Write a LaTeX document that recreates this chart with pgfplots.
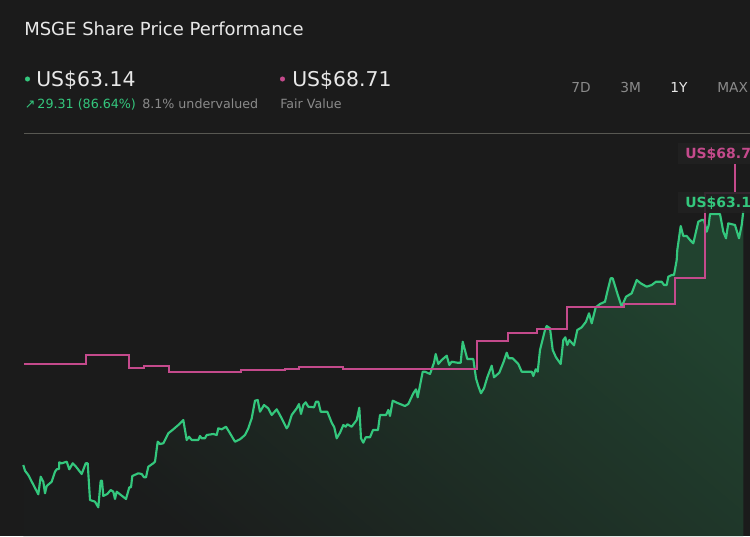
\documentclass[border=0pt]{standalone}
\usepackage{fontspec}
\setmainfont{DejaVu Sans}
\usepackage{pgfplots}
\pgfplotsset{compat=1.18}
\usepackage{pgfplotstable}
\definecolor{bg}{RGB}{27,27,27}
\definecolor{txt}{RGB}{232,232,232}
\definecolor{gry}{RGB}{138,138,138}
\definecolor{grn}{RGB}{52,199,125}
\definecolor{pnk}{RGB}{196,74,140}
\definecolor{rule}{RGB}{88,88,82}
\definecolor{filltop}{RGB}{33,66,47}
\definecolor{fillmid}{RGB}{29,40,33}
\definecolor{fillbot}{RGB}{27,28,28}
\definecolor{boxbg}{RGB}{33,33,33}

% share price (x: time position, y: chart position, reversed)
\pgfplotstableread{
x y
23.3 465
25 470.7
28.3 475
38.3 494.3
40.7 476.7
43.3 481.7
45 493.3
46.7 486
51.7 481.7
55 471.7
56.7 469.3
59 469
59.3 462.3
61.7 463.3
66.7 461.7
69.3 469.3
72.7 463.3
76 466.7
81.7 474
85.7 463.3
87.7 463.3
90 500
95 501.7
98.3 507.3
100.7 480.7
102 480.7
103.3 496
107.3 494
110.7 490
113.3 491.7
115 499
116.7 491.7
126 499
129.3 487.3
131 487.3
132.3 476
138.3 473.3
141.7 474
144 477.3
146 477.3
148.3 466.7
153.3 463.3
155 461.7
157.7 441.7
160 444
163.3 443.3
168.3 433.3
173.3 429.3
178.3 425
183.3 420
186.7 440
189 436.7
191.7 440
198.3 440
200 436
201.7 438.3
205 438.3
206.7 435
213.3 434
216.7 435
218.3 428.3
221.7 429.3
226 426.7
230 433.3
235 441.7
240 439.3
245 435
248.3 428.3
251.7 418.3
255 400.7
257.7 400
260 411.7
264 405
268.3 408.3
271.7 415
276.7 409.3
281.7 418.3
286.7 428.3
288.3 426
291.7 415
296.7 408.3
299 404
301 414
303.3 405
305.7 402.3
308.3 406.7
314 407.3
316 401.7
318.3 401.7
320.7 411.7
327.3 411.7
331.7 422.7
334.3 427.3
336.7 438.3
340 432.7
343.3 425
345.7 426.7
347.3 424.3
351.7 426.7
356.7 420
359.3 407.7
361 438.3
363.3 442.7
365.7 437.3
370 437.3
373 430
378 430
380 415
386 415
388.3 410
390 416
392.7 400.7
398.3 403.3
405 406
408.3 404
413.3 393.3
416 389.3
417.7 397.3
422.7 371.7
425 371.7
430 374
434 362.7
435.7 354
438.3 364
441.7 360
446.7 355.7
449.3 365
451.7 361.7
457.3 362.7
460.7 362.7
462.7 341.7
467.3 359
473.3 359
476 378.3
478.3 386
481 393.3
484 388.3
487.3 377.3
491.7 365.7
494 377.3
499.3 372.7
503.3 362.7
506.7 352.7
508.7 358.3
512.7 358.3
518.3 364
521.7 371.7
528.3 371.7
531.7 371.7
533.3 376
535.7 369.3
537.7 371.7
540 350
545 330
546.7 326
550 328.3
552.7 350
556 357.3
560.7 364
563.3 340
565.3 337.3
567.3 345
569.3 340
574 345.3
577.3 330
581.7 327.3
586 321.7
589 313.3
591.7 323.3
595.7 307.3
600 304
605 301.7
607.3 291.7
610.7 278.3
612.7 278.3
617.3 293.3
621.7 306.7
626 296.7
631.7 293.3
636.7 280
640.7 283.3
646.7 286.7
651.7 285
656 281.7
661.7 281.7
664 285
666.7 285
668.3 276.7
671.7 275
674 275
676.7 260
677.3 250
680.7 226
683.3 236
686.7 236
690 240
693.3 243.3
698.3 221.7
701.7 220
704 220
706.7 231.7
708.7 225
710 214
715 214
720 214
723.3 231.7
726 238.3
728.3 223.3
735 225
739 238.3
741.7 225
743.3 211
}\pricedata

% fair value steps
\pgfplotstableread{
x y
24 364.3
56.7 363.7
85.7 354.7
129.3 368.3
144 365.7
168.7 371.7
241 370.3
256 369.7
285 368.7
299.3 367.3
342.7 369
476.7 341
508.3 333.3
537.3 329.3
566.7 307
624 304
675.3 278
705 193
752 193
}\fairdata

\begin{document}
\begin{tikzpicture}
\path[use as bounding box] (0,0) rectangle (562.5pt,402pt);
\clip (0,0) rectangle (562.5pt,402pt);
\fill[bg] (0,0) rectangle (562.5pt,402pt);
\begin{axis}[
  scale only axis, width=562.5pt, height=402pt,
  xmin=0, xmax=750, ymin=0, ymax=536, y dir=reverse,
  hide axis, clip=false,
]
% area under price
\addplot[draw=none, top color=filltop, middle color=fillmid, bottom color=fillbot, shading angle=-40] table {\pricedata}
  -- (axis cs:743.3,536) -- (axis cs:23.3,536) -- cycle;
% price line
\addplot[grn, line width=1.6pt, line join=round] table {\pricedata};
% fair value
\addplot[pnk, line width=1.4pt, const plot] table {\fairdata};

% separator rule
\draw[rule, line width=0.75pt] (axis cs:24,133) -- (axis cs:752,133);

% header texts
\node[anchor=base west, inner sep=0, text=txt, font=\fontsize{13.5pt}{16pt}\selectfont] at (axis cs:24,35) {MSGE Share Price Performance};
\fill[grn] (axis cs:27.5,79) circle (1.9pt);
\node[anchor=base west, inner sep=0, text=txt, font=\fontsize{15.3pt}{18pt}\selectfont] at (axis cs:36,86.7) {US\$63.14};
\node[anchor=base west, inner sep=0, text=grn, font=\fontsize{9.5pt}{11pt}\selectfont] at (axis cs:24.5,108.3) {↗\,29.31 (86.64\%)};
\node[anchor=base west, inner sep=0, text=gry, font=\fontsize{9.5pt}{11pt}\selectfont] at (axis cs:142,108.3) {8.1\% undervalued};
\fill[pnk] (axis cs:282.5,79) circle (1.9pt);
\node[anchor=base west, inner sep=0, text=txt, font=\fontsize{15.3pt}{18pt}\selectfont] at (axis cs:292,86.7) {US\$68.71};
\node[anchor=base west, inner sep=0, text=gry, font=\fontsize{9.5pt}{11pt}\selectfont] at (axis cs:280,108.3) {Fair Value};

% range buttons
\node[anchor=base west, inner sep=0, text=gry, font=\fontsize{10.3pt}{12pt}\selectfont] at (axis cs:571,92.3) {7D};
\node[anchor=base west, inner sep=0, text=gry, font=\fontsize{10.3pt}{12pt}\selectfont] at (axis cs:620,92.3) {3M};
\node[anchor=base west, inner sep=0, text=txt, font=\fontsize{10.3pt}{12pt}\selectfont] at (axis cs:670,92.3) {1Y};
\node[anchor=base west, inner sep=0, text=gry, font=\fontsize{10.3pt}{12pt}\selectfont] at (axis cs:717,92.3) {MAX};

% value labels
\draw[pnk, line width=1.4pt] (axis cs:735,164) -- (axis cs:735,193);
\fill[boxbg, opacity=0.92] (axis cs:678,143) rectangle (axis cs:760,164);
\node[anchor=base west, inner sep=0, text=pnk, font=\bfseries\fontsize{10.5pt}{12pt}\selectfont] at (axis cs:685,158.5) {US\$68.71};
\fill[boxbg, opacity=0.88] (axis cs:678,192) rectangle (axis cs:760,213);
\node[anchor=base west, inner sep=0, text=grn, font=\bfseries\fontsize{10.5pt}{12pt}\selectfont] at (axis cs:685,207.5) {US\$63.14};
\end{axis}
\end{tikzpicture}
\end{document}
